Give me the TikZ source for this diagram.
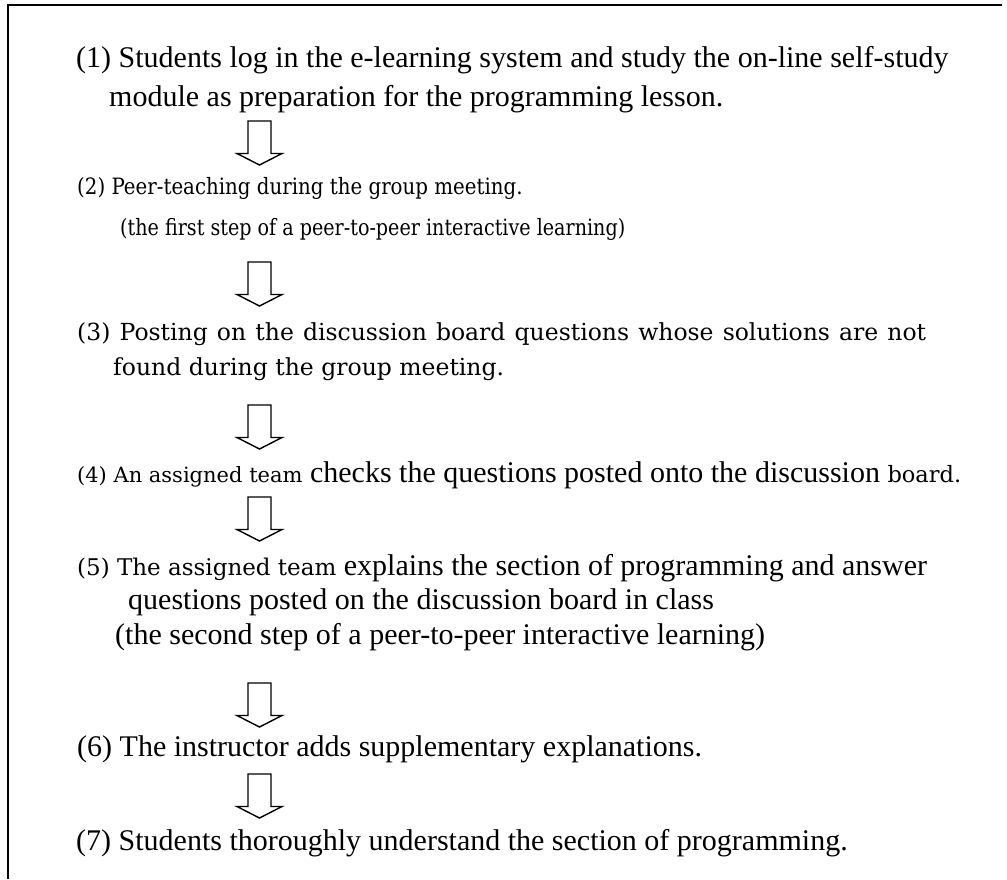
\documentclass[tikz,border=0pt]{standalone}
\usepackage{graphicx}
\usepackage{fontspec}
\setmainfont{Liberation Serif}
\newfontfamily\centfam{DejaVu Serif}
\newcommand\cf[1][23.5]{\centfam\fontsize{#1}{28}\selectfont}
\tikzset{
  tm/.style={anchor=base west, inner sep=0pt, font=\fontsize{30}{36}\selectfont},
  ce/.style={anchor=base west, inner sep=0pt, font=\cf},
  ces/.style={anchor=base west, inner sep=0pt, font=\cf[22.5]},
  blockarrow/.style={draw, line width=1.4pt, fill=white, line join=miter},
  framestyle/.style={line width=2pt},
  flowarrow/.pic={\draw[blockarrow] (-11.5,0) -- (11.5,0) -- (11.5,32.5) -- (22.5,32.5) -- (0,44) -- (-22.5,32.5) -- (-11.5,32.5) -- cycle;}
}
\begin{document}
\begin{tikzpicture}[x=1pt,y=-1pt]
\useasboundingbox (0,0) rectangle (1007,879);
\draw[framestyle] (8,879) -- (8,4.5) -- (1002,4.5);

\node[tm] (l1) at (76,67) {(1) Students log in the e-learning system and study the on-line self-study};
\node[tm] (l2) at (109,106) {module as preparation for the programming lesson.};
\pic at (259.5,121) {flowarrow};
\node[ces] (l3) at (77,194) {\scalebox{0.88}[1]{(2) Peer-teaching during the group meeting.}};
\node[ces] (l4) at (120,235) {\scalebox{0.85}[1]{(the first step of a peer-to-peer interactive learning)}};
\pic at (259.5,262) {flowarrow};
\node[ce] (l5) at (77,340) {\makebox[849pt][s]{(3) Posting on the discussion board questions whose solutions are not}};
\node[ce] (l6) at (113,375) {found during the group meeting.};
\pic at (259.5,405) {flowarrow};
\node[tm] (l7) at (77,482) {{\cf[21](4) An assigned team} checks the questions posted onto the discussion {\cf[22.5]board.}};
\pic at (259.5,497) {flowarrow};
\node[tm] (l8) at (77,575) {{\cf[23](5) The assigned team} explains the section of programming and answer};
\node[tm] (l9) at (128,609) {questions posted on the discussion board in class};
\node[tm] (l10) at (115,644) {(the second step of a peer-to-peer interactive learning)};
\pic at (259.5,683) {flowarrow};
\node[tm] (l11) at (77,756) {(6) The instructor adds supplementary explanations.};
\pic at (259.5,774) {flowarrow};
\node[tm] (l12) at (76,850) {(7) Students thoroughly understand the section of programming.};
\end{tikzpicture}
\end{document}
